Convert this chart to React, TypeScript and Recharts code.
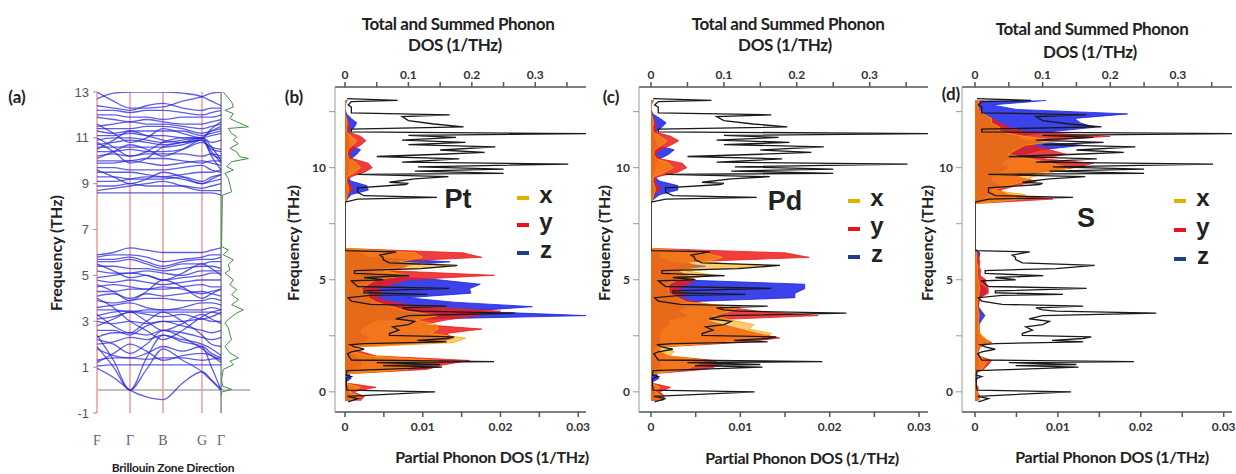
import React from 'react';
import { ComposedChart, LineChart, Line, Area, XAxis, YAxis, ReferenceLine } from 'recharts';

// ---- panel (a): band structure ----
const K_SAMPLES = [0, 0.5, 1, 1.5, 2, 2.59, 3.18, 3.47, 3.76];
const K_POINTS = [0, 1, 2, 3.18, 3.76];
const K_LABELS = ['F', 'Γ', 'B', 'G', 'Γ'];
const BAND_TICKS = [-1, 1, 3, 5, 7, 9, 11, 13];

const LOWER_BANDS = [
  [0.95, 0.55, 0.0, -0.3, -0.42, 0.3, 0.8, 0.45, 0.0],
  [1.9, 1.0, 0.0, 0.9, 1.8, 1.3, 0.8, 0.4, 0.0],
  [2.4, 1.3, 0.0, 1.4, 2.4, 2.1, 1.9, 1.0, 0.0],
  [1.05, 1.1, 1.1, 1.1, 1.1, 1.1, 1.1, 1.1, 1.1],
  [1.3, 1.4, 1.4, 1.35, 1.4, 1.4, 1.3, 1.35, 1.4],
  [1.8, 1.5, 1.4, 1.6, 1.9, 1.7, 1.9, 1.6, 1.4],
  [2.0, 2.1, 2.3, 2.2, 2.4, 2.2, 2.0, 1.8, 1.5],
  [2.3, 2.5, 2.5, 2.4, 2.6, 2.5, 2.3, 2.2, 2.3],
  [2.6, 2.6, 2.4, 2.8, 3.0, 2.8, 2.6, 2.5, 2.6],
  [3.0, 2.9, 3.0, 2.9, 3.0, 3.0, 3.1, 3.0, 3.0],
  [3.1, 3.2, 3.4, 3.3, 3.2, 3.3, 3.1, 3.2, 3.4],
  [3.25, 3.4, 3.45, 3.4, 3.4, 3.4, 3.4, 3.4, 3.3],
  [3.5, 3.5, 3.4, 3.5, 3.5, 3.5, 3.5, 3.6, 3.5],
  [3.6, 3.7, 3.8, 3.6, 3.5, 3.6, 3.8, 3.8, 3.7],
  [3.9, 3.8, 3.9, 4.0, 4.0, 3.9, 3.9, 4.0, 3.9],
  [4.1, 4.2, 4.0, 4.2, 4.1, 4.2, 4.3, 4.2, 4.1],
  [4.3, 4.3, 4.4, 4.4, 4.5, 4.4, 4.2, 4.3, 4.4],
  [4.5, 4.6, 4.5, 4.4, 4.4, 4.5, 4.6, 4.5, 4.5],
  [4.8, 4.7, 4.8, 4.7, 4.6, 4.7, 4.8, 4.8, 4.8],
  [4.9, 5.0, 5.1, 5.0, 4.8, 4.9, 5.0, 5.1, 5.1],
  [5.2, 5.1, 5.1, 5.2, 5.1, 5.0, 5.2, 5.2, 5.2],
  [5.4, 5.4, 5.3, 5.3, 5.2, 5.3, 5.4, 5.4, 5.3],
  [5.6, 5.6, 5.7, 5.5, 5.3, 5.5, 5.5, 5.6, 5.6],
  [5.7, 5.7, 5.8, 5.6, 5.4, 5.6, 5.7, 5.7, 5.8],
  [5.8, 5.9, 5.9, 5.8, 5.6, 5.7, 5.8, 5.9, 5.9],
  [5.9, 6.0, 6.2, 6.1, 6.0, 6.0, 6.0, 6.1, 6.2],
  [4.0, 3.6, 3.0, 2.6, 2.2, 2.6, 3.2, 3.4, 3.5],
  [3.3, 2.8, 2.5, 3.0, 3.4, 3.0, 2.4, 2.0, 1.9],
  [1.2, 1.6, 2.0, 1.7, 1.3, 1.5, 1.6, 1.5, 1.3],
  [2.2, 2.0, 1.6, 2.0, 2.6, 2.3, 1.8, 1.5, 1.2],
  [2.8, 3.1, 3.4, 3.0, 2.6, 2.9, 3.3, 3.1, 2.9],
  [4.6, 4.3, 3.9, 4.3, 4.8, 4.5, 4.0, 4.2, 4.4],
  [5.5, 5.2, 4.9, 5.0, 4.8, 5.1, 5.5, 5.3, 5.0],
];

const UPPER_BANDS = [
  [12.7, 12.95, 13.0, 13.0, 13.0, 12.95, 12.8, 12.6, 12.4],
  [13.0, 12.6, 12.3, 12.3, 12.35, 12.6, 12.8, 12.95, 13.0],
  [12.2, 12.2, 12.1, 12.2, 12.2, 12.1, 12.0, 12.1, 12.2],
  [12.0, 12.0, 11.9, 11.9, 11.8, 11.9, 11.9, 11.9, 12.0],
  [11.9, 11.8, 11.7, 11.8, 11.7, 11.6, 11.6, 11.7, 11.8],
  [11.5, 11.6, 11.7, 11.6, 11.6, 11.5, 11.4, 11.5, 11.6],
  [11.4, 11.4, 11.4, 11.5, 11.5, 11.4, 11.2, 11.3, 11.4],
  [11.3, 11.2, 11.3, 11.3, 11.3, 11.3, 11.1, 11.2, 11.3],
  [11.1, 11.1, 11.2, 11.1, 11.1, 11.0, 11.0, 11.1, 11.2],
  [10.9, 11.0, 11.0, 10.9, 10.8, 10.9, 11.0, 10.8, 10.9],
  [10.7, 10.8, 10.9, 10.8, 10.7, 10.8, 10.9, 10.5, 10.4],
  [10.6, 10.6, 10.6, 10.6, 10.6, 10.7, 10.9, 10.3, 10.1],
  [10.4, 10.4, 10.5, 10.4, 10.4, 10.5, 10.8, 10.6, 10.5],
  [10.2, 10.3, 10.2, 10.3, 10.3, 10.3, 10.2, 10.3, 10.2],
  [10.0, 10.0, 10.0, 10.1, 10.1, 10.0, 9.9, 10.0, 10.0],
  [9.9, 9.9, 10.0, 9.9, 9.8, 9.9, 10.0, 9.9, 9.8],
  [9.7, 9.7, 9.6, 9.6, 9.6, 9.7, 9.8, 9.6, 9.5],
  [9.5, 9.5, 9.5, 9.4, 9.3, 9.4, 9.5, 9.5, 9.6],
  [9.3, 9.3, 9.2, 9.2, 9.2, 9.3, 9.1, 9.3, 9.4],
  [9.1, 9.1, 9.2, 9.3, 9.3, 9.2, 9.0, 9.1, 9.2],
  [8.9, 8.9, 9.0, 8.9, 8.9, 8.9, 8.8, 8.9, 9.0],
  [8.7, 8.8, 8.9, 9.0, 9.1, 8.9, 8.7, 8.7, 8.7],
  [8.6, 8.6, 8.6, 8.6, 8.6, 8.6, 8.6, 8.6, 8.5],
  [11.0, 10.6, 10.2, 10.4, 10.8, 11.0, 11.0, 10.6, 10.0],
  [10.5, 10.9, 11.3, 11.1, 10.9, 10.8, 11.0, 11.4, 11.7],
  [12.4, 12.3, 12.2, 12.4, 12.5, 12.3, 12.2, 12.3, 12.3],
  [11.6, 11.2, 10.8, 11.0, 11.4, 11.2, 11.0, 11.3, 11.5],
  [10.1, 10.4, 10.7, 10.5, 10.2, 10.5, 10.9, 10.4, 9.9],
  [9.6, 9.3, 9.0, 9.2, 9.5, 9.3, 9.0, 9.2, 9.4],
  [10.8, 10.4, 9.9, 10.1, 10.6, 10.8, 11.0, 10.2, 9.6],
];

// small DOS curve drawn beside the band structure (relative units)
const SIDE_DOS_F = [-0.26, -0.09, 0.03, 0.17, 0.46, 0.9, 1.11, 1.26, 1.4, 1.62, 1.91, 2.2, 2.42, 2.71, 2.93, 3.14, 3.36, 3.5, 3.72, 3.94, 4.16, 4.38, 4.59, 4.81, 5.1, 5.24, 5.46, 5.68, 5.9, 6.11, 6.26, 8.5, 8.65, 8.94, 9.23, 9.45, 9.6, 9.74, 9.96, 10.1, 10.17, 10.39, 10.54, 10.75, 10.9, 11.05, 11.19, 11.41, 11.48, 11.7, 11.84, 12.06, 12.2, 12.35, 12.57, 13.0];
const SIDE_DOS_G = [0, 0.02, 0.38, 0.06, 0.02, 0.08, 0.44, 0.32, 0.62, 0.32, 0.14, 0.38, 0.32, 0.26, 0.14, 0.32, 0.56, 0.8, 0.38, 0.62, 0.38, 0.56, 0.32, 0.44, 0.14, 0.32, 0.26, 0.44, 0.08, 0.26, 0.02, 0.05, 0.38, 0.32, 0.26, 0.14, 0.44, 0.2, 0.38, 0.98, 0.68, 0.56, 0.32, 0.62, 0.44, 0.56, 0.38, 0.26, 0.98, 0.56, 0.32, 0.44, 0.14, 0.44, 0.38, 0.08];

// ---- panels (b)-(d): phonon DOS ----
const TOTAL_F = [-0.45, -0.3, -0.2, 0.0, 0.08, 0.3, 0.6, 0.68, 0.75, 0.95, 1.0, 1.1, 1.17, 1.22, 1.3, 1.35, 1.42, 1.7, 1.78, 1.9, 2.0, 2.1, 2.15, 2.23, 2.3, 2.38, 2.45, 2.52, 2.6, 2.75, 2.9, 3.0, 3.14, 3.26, 3.4, 3.51, 3.6, 3.66, 3.75, 3.82, 3.9, 4.05, 4.2, 4.3, 4.35, 4.42, 4.5, 4.62, 4.7, 4.95, 5.0, 5.1, 5.18, 5.28, 5.41, 5.5, 5.64, 5.75, 5.9, 6.0, 6.1, 6.24, 6.3,
  8.46, 8.6, 8.68, 8.75, 8.9, 9.1, 9.25, 9.3, 9.35, 9.5, 9.6, 9.7, 9.75, 9.85, 9.94, 10.04, 10.16, 10.25, 10.39, 10.5, 10.6, 10.68, 10.79, 10.93, 11.03, 11.13, 11.23, 11.35, 11.44, 11.52, 11.6, 11.72, 11.82, 11.95, 12.1, 12.28, 12.36, 12.45, 12.7, 12.8, 12.95, 13.0, 13.08];
const TOTAL_V = [0.005, 0.02, 0.004, 0.142, 0.003, 0.002, 0.002, 0.01, 0.002, 0.003, 0.06, 0.153, 0.06, 0.15, 0.05, 0.235, 0.01, 0.004, 0.01, 0.03, 0.015, 0.008, 0.03, 0.16, 0.114, 0.16, 0.172, 0.07, 0.07, 0.085, 0.075, 0.1, 0.11, 0.08, 0.1, 0.268, 0.12, 0.1, 0.09, 0.16, 0.04, 0.01, 0.005, 0.04, 0.13, 0.03, 0.03, 0.165, 0.02, 0.01, 0.06, 0.03, 0.101, 0.015, 0.015, 0.12, 0.177, 0.07, 0.06, 0.06, 0.055, 0.081, 0.0,
  0.0, 0.02, 0.145, 0.03, 0.02, 0.02, 0.095, 0.1, 0.07, 0.11, 0.163, 0.02, 0.25, 0.11, 0.25, 0.115, 0.352, 0.09, 0.18, 0.05, 0.15, 0.22, 0.15, 0.237, 0.1, 0.19, 0.09, 0.175, 0.1, 0.38, 0.01, 0.01, 0.187, 0.14, 0.1, 0.09, 0.165, 0.01, 0.01, 0.005, 0.01, 0.083, 0.003];

const FREQ = [-0.4, -0.2, 0, 0.2, 0.4, 0.6, 0.8, 1, 1.2, 1.4, 1.6, 1.8, 2, 2.2, 2.4, 2.6, 2.8, 3, 3.2, 3.4, 3.6, 3.8, 4, 4.2, 4.4, 4.6, 4.8, 5, 5.2, 5.4, 5.6, 5.8, 6, 6.2, 6.4, 6.6, 6.8, 7, 7.2, 7.4, 7.6, 7.8, 8, 8.2, 8.4, 8.6, 8.8, 9, 9.2, 9.4, 9.6, 9.8, 10, 10.2, 10.4, 10.6, 10.8, 11, 11.2, 11.4, 11.6, 11.8, 12, 12.2, 12.4, 12.6, 12.8, 13];

const PT_X = [.001, .002, .0005, .002, 0, 0, 0, .008, .009, .012, .003, .001, .002, .014, .0155, .011, .012, .0118, .009, .012, .008, .006, .004, .003, .003, .002, .003, .004, .008, .005, .0143, .007, .01, .009,
  0, 0, 0, 0, 0, 0, 0, 0, 0, 0, 0,
  .0002, .0003, .0005, .0004, .0002, .0003, .0012, .002, .0015, .0005, .0003, .0004, .001, .0015, .0008, .0002, .0002, .0003, .0002, 0, 0, 0, .0002];
const PT_Y = [.002, .0025, .001, .004, 0, 0, 0, .0105, .0126, .016, .004, .002, .001, .012, .014, .013, .0176, .010, .013, .017, .020, .010, .006, .004, .005, .004, .006, .008, .0192, .006, .008, .005, .0176, .0152,
  0, 0, 0, 0, 0, 0, 0, 0, 0, 0, 0,
  .0002, .0003, .001, .0008, .0003, .0008, .0025, .0035, .003, .001, .0005, .001, .002, .0027, .002, .0004, .0006, .0004, .0003, 0, 0, 0, .0002];
const PT_Z = [.0005, .0008, .0003, .0005, 0, .0008, .0005, .001, .002, .002, .001, .0005, .0005, .002, .003, .002, .002, .003, .004, .031, .016, .0241, .014, .008, .0162, .016, .0174, .012, .004, .003, .006, .0135, .003, .002,
  0, 0, 0, 0, 0, 0, 0, 0, 0, 0, 0,
  .0003, .0008, .003, .0028, .0008, .0003, .0003, .0005, .0004, .0008, .0015, .002, .0005, .0005, .0003, .0006, .0012, .0015, .0008, .0002, 0, 0, .0003];

const PD_X = [.001, .0013, .0005, .001, 0, 0, 0, .004, .005, .006, .002, .0026, .001, .008, .012, .0135, .011, .0115, .009, .007, .009, .01, .004, .003, .002, .002, .002, .003, .007, .004, .013, .006, .008, .006,
  0, 0, 0, 0, 0, 0, 0, 0, 0, 0, 0,
  .0002, .0003, .0005, .0004, .0002, .0003, .0015, .0025, .002, .0006, .0003, .0004, .0012, .0018, .001, .0002, .0002, .0003, .0002, 0, 0, 0, .0002];
const PD_Y = [.0013, .0015, .001, .0022, 0, 0, 0, .006, .008, .007, .002, .001, .001, .01, .0144, .012, .01, .008, .006, .0187, .012, .008, .005, .003, .004, .003, .004, .005, .004, .003, .005, .004, .0177, .015,
  0, 0, 0, 0, 0, 0, 0, 0, 0, 0, 0,
  .0002, .0003, .001, .0008, .0003, .0008, .003, .004, .0035, .001, .0005, .001, .0022, .0031, .0022, .0004, .0006, .0004, .0003, 0, 0, 0, .0002];
const PD_Z = [.0005, .0006, .0003, .0004, 0, .0009, .0006, .001, .001, .001, .0005, .0003, .0004, .001, .001, .001, .0012, .002, .002, .004, .003, .004, .003, .0161, .0161, .0172, .0172, .003, .002, .002, .0061, .002, .001, .001,
  0, 0, 0, 0, 0, 0, 0, 0, 0, 0, 0,
  .0003, .001, .003, .003, .001, .0003, .0003, .0005, .0004, .001, .002, .0026, .0005, .0005, .0003, .0006, .0012, .0017, .001, .0002, 0, 0, .0003];

const S_X = [.0003, .0005, .0002, .0003, 0, 0, 0, .0008, .0012, .0015, .0004, .0003, .0004, .0018, .0012, .0006, .0004, .0005, .0004, .0005, .0004, .0003, .0003, .0004, .0005, .0006, .0005, .0004, .0003, .0003, .0003, .0002, .0002, .0002,
  0, 0, 0, 0, 0, 0, 0, 0, 0, 0, 0,
  .006, .006, .002, .004, .006, .007, .0094, .0114, .009, .0066, .004, .005, .006, .0102, .006, .003, .003, .002, .002, .001, .0005, .0003, .0005];
const S_Y = [.0004, .0006, .0003, .0004, 0, 0, 0, .001, .0016, .002, .0005, .0004, .0006, .002, .001, .0006, .0005, .0005, .0004, .0006, .0005, .0004, .0005, .0006, .0016, .0016, .0013, .0013, .0006, .0007, .0005, .0006, .0004, .0003,
  0, 0, 0, 0, 0, 0, 0, 0, 0, 0, 0,
  .0094, .004, .003, .005, .0074, .005, .008, .012, .0143, .008, .011, .009, .007, .008, .0163, .006, .004, .003, .002, .001, .0005, .0005, .001];
const S_Z = [.0002, .0003, .0001, .0002, 0, .0003, .0002, .0003, .0004, .0004, .0002, .0002, .0003, .0004, .0003, .0003, .0004, .0005, .0008, .0012, .0008, .0004, .0004, .0005, .0013, .0014, .0005, .0004, .0004, .0004, .0003, .0004, .0005, .0006,
  0, 0, 0, 0, 0, 0, 0, 0, 0, 0, 0,
  .001, .0015, .002, .003, .002, .002, .003, .004, .003, .004, .006, .008, .013, .006, .005, .009, .0144, .0127, .012, .0184, .005, .002, .0086];

const TOP_TICKS = [0, 0.05, 0.1, 0.15, 0.2, 0.25, 0.3, 0.35];
const TOP_LABELS = ['0', '', '0.1', '', '0.2', '', '0.3', ''];
const BOTTOM_TICKS = [0, 0.005, 0.01, 0.015, 0.02, 0.025, 0.03];
const BOTTOM_LABELS = ['0', '', '0.01', '', '0.02', '', '0.03'];
const FREQ_TICKS = [0, 2.5, 5, 7.5, 10, 12.5];
const FREQ_LABELS = ['0', '', '5', '', '10', ''];

const ORANGE = '#f7a400';
const RED = '#ec1c1c';
const BLUE = '#1a22e6';

const bandRows = K_SAMPLES.map((k, j) => {
  const row: Record<string, number> = { k };
  [...LOWER_BANDS, ...UPPER_BANDS].forEach((b, i) => {
    row[`b${i}`] = b[j];
  });
  return row;
});
const BAND_COUNT = LOWER_BANDS.length + UPPER_BANDS.length;
const sideDosRows = SIDE_DOS_F.map((f, i) => ({ f, g: SIDE_DOS_G[i] }));
const totalRows = TOTAL_F.map((f, i) => ({ f, v: TOTAL_V[i] }));
const partialRows = (xs: number[], ys: number[], zs: number[]) =>
  FREQ.map((f, i) => ({ f, x: xs[i], y: ys[i], z: zs[i] }));

const tickStyle = { fontSize: 12, fontWeight: 700, fill: '#333', fontFamily: 'Lato' };

const Txt = ({ x, y, size, weight = 700, color = '#222', rotate = false, family = 'Lato', spacing = 0, children }: any) => (
  <div
    style={{
      position: 'absolute',
      left: x,
      top: y,
      transform: `translate(-50%, -50%)${rotate ? ' rotate(-90deg)' : ''}`,
      fontSize: size,
      fontWeight: weight,
      color,
      fontFamily: family,
      letterSpacing: spacing,
      whiteSpace: 'nowrap',
      lineHeight: 1,
    }}
  >
    {children}
  </div>
);

const LegendRow = ({ x, y, color, label }: any) => (
  <>
    <div style={{ position: 'absolute', left: x, top: y - 2, width: 12, height: 4, background: color }} />
    <Txt x={x + 29} y={y - 3} size={24} weight={700} family="Liberation Sans">{label}</Txt>
  </>
);

function DosPanel({ left, width, rightMargin, pad, rows }: any) {
  return (
    <div style={{ position: 'absolute', left, top: 0 }}>
      <ComposedChart
        layout="vertical"
        width={width}
        height={474}
        margin={{ top: 67, right: rightMargin, bottom: 37, left: 15 }}
      >
        <XAxis
          xAxisId="top"
          orientation="top"
          type="number"
          domain={[0, 0.38]}
          allowDataOverflow
          ticks={TOP_TICKS}
          interval={0}
          tickFormatter={(_v: number, i: number) => TOP_LABELS[i]}
          padding={{ left: pad, right: 0 }}
          height={20}
          tickSize={5}
          tickMargin={3}
          stroke="#555"
          strokeWidth={1.5}
          tick={tickStyle}
        />
        <XAxis
          xAxisId="bottom"
          orientation="bottom"
          type="number"
          domain={[0, 0.031]}
          allowDataOverflow
          ticks={BOTTOM_TICKS}
          interval={0}
          tickFormatter={(_v: number, i: number) => BOTTOM_LABELS[i]}
          padding={{ left: pad, right: 0 }}
          height={25}
          tickSize={5}
          tickMargin={5}
          stroke="#555"
          strokeWidth={1.5}
          tick={tickStyle}
        />
        <YAxis
          type="number"
          dataKey="f"
          reversed
          domain={[-0.9, 13.6]}
          allowDataOverflow
          ticks={FREQ_TICKS}
          interval={0}
          tickFormatter={(_v: number, i: number) => FREQ_LABELS[i]}
          width={30}
          tickSize={6}
          tickMargin={3}
          stroke="#999"
          tick={tickStyle}
        />
        <Area xAxisId="bottom" data={rows} dataKey="z" type="linear" stroke={BLUE} strokeWidth={0.8} fill={BLUE} fillOpacity={0.85} dot={false} activeDot={false} isAnimationActive={false} />
        <Area xAxisId="bottom" data={rows} dataKey="y" type="linear" stroke={RED} strokeWidth={0.8} fill={RED} fillOpacity={0.85} dot={false} activeDot={false} isAnimationActive={false} />
        <Area xAxisId="bottom" data={rows} dataKey="x" type="linear" stroke={ORANGE} strokeWidth={0.8} fill={ORANGE} fillOpacity={0.55} dot={false} activeDot={false} isAnimationActive={false} />
        <Line xAxisId="top" data={totalRows} dataKey="v" type="linear" stroke="#1a1a1a" strokeWidth={1.3} dot={false} activeDot={false} isAnimationActive={false} />
      </ComposedChart>
    </div>
  );
}

export default function App() {
  return (
    <div style={{ position: 'absolute', left: 0, top: 0, width: 1236, height: 474, background: '#fff', fontFamily: 'Lato', overflow: 'hidden' }}>
      {/* (a) band structure */}
      <div style={{ position: 'absolute', left: 0, top: 0 }}>
        <LineChart width={260} height={474} data={bandRows} margin={{ top: 92, right: 10, bottom: 36, left: 57 }}>
          <XAxis
            dataKey="k"
            type="number"
            domain={[0, 4.636]}
            allowDataOverflow
            ticks={K_POINTS}
            interval={0}
            tickFormatter={(_v: number, i: number) => K_LABELS[i]}
            axisLine={false}
            tickLine={false}
            height={25}
            tickMargin={16}
            tick={{ fontSize: 14, fill: '#666', fontFamily: 'Liberation Serif' }}
          />
          <XAxis xAxisId="dos" dataKey="g" type="number" domain={[-4.43, 1.036]} allowDataOverflow hide />
          <YAxis
            type="number"
            domain={[-1, 13]}
            allowDataOverflow
            ticks={BAND_TICKS}
            interval={0}
            width={40}
            axisLine={false}
            tickSize={4}
            tickMargin={4}
            stroke="#999"
            tick={{ fontSize: 13, fill: '#555', fontFamily: 'Liberation Sans' }}
          />
          <ReferenceLine y={0} stroke="#aaa" strokeWidth={1.5} />
          {K_POINTS.slice(0, 4).map((k, i) => (
            <ReferenceLine key={`kr-${i}`} x={k} stroke="#f09a9a" strokeWidth={1.5} />
          ))}
          <ReferenceLine x={K_POINTS[4]} stroke="#888" strokeWidth={1.5} />
          {Array.from({ length: BAND_COUNT }, (_, i) => (
            <Line
              key={`band-${i}`}
              dataKey={`b${i}`}
              type="monotone"
              stroke="#2828dc"
              strokeOpacity={0.75}
              strokeWidth={1.3}
              dot={false}
              activeDot={false}
              isAnimationActive={false}
            />
          ))}
          <Line xAxisId="dos" data={sideDosRows} dataKey="f" type="linear" stroke="#3f8f3f" strokeWidth={1} dot={false} activeDot={false} isAnimationActive={false} />
        </LineChart>
      </div>
      <Txt x={17} y={96} size={17}>(a)</Txt>
      <Txt x={56} y={253} size={16} rotate>Frequency (THz)</Txt>
      <Txt x={173} y={468} size={12} spacing={-0.2}>Brillouin Zone Direction</Txt>

      {/* (b) Pt */}
      <DosPanel left={290} width={310} rightMargin={14} pad={10} rows={partialRows(PT_X, PT_Y, PT_Z)} />
      <Txt x={458} y={23} size={17} spacing={-0.4}>Total and Summed Phonon</Txt>
      <Txt x={455} y={44} size={17} spacing={-0.4}>DOS (1/THz)</Txt>
      <Txt x={492} y={457} size={16} spacing={-0.3}>Partial Phonon DOS (1/THz)</Txt>
      <Txt x={293} y={243} size={16} rotate>Frequency (THz)</Txt>
      <Txt x={294} y={96} size={17}>(b)</Txt>
      <Txt x={458} y={199} size={27} family="Liberation Sans">Pt</Txt>
      <LegendRow x={517} y={198} color="#e2b100" label="x" />
      <LegendRow x={517} y={225} color="#e8141c" label="y" />
      <LegendRow x={517} y={253} color="#1f3c8c" label="z" />

      {/* (c) Pd */}
      <DosPanel left={594} width={348} rightMargin={14} pad={12} rows={partialRows(PD_X, PD_Y, PD_Z)} />
      <Txt x={788} y={23} size={17} spacing={-0.4}>Total and Summed Phonon</Txt>
      <Txt x={785} y={44} size={17} spacing={-0.4}>DOS (1/THz)</Txt>
      <Txt x={802} y={458} size={16} spacing={-0.3}>Partial Phonon DOS (1/THz)</Txt>
      <Txt x={604} y={243} size={16} rotate>Frequency (THz)</Txt>
      <Txt x={611} y={96} size={17}>(c)</Txt>
      <Txt x={785} y={201} size={27} family="Liberation Sans">Pd</Txt>
      <LegendRow x={848} y={201} color="#e2b100" label="x" />
      <LegendRow x={848} y={229} color="#e8141c" label="y" />
      <LegendRow x={848} y={257} color="#1f3c8c" label="z" />

      {/* (d) S */}
      <DosPanel left={917} width={319} rightMargin={4} pad={13} rows={partialRows(S_X, S_Y, S_Z)} />
      <Txt x={1092} y={28} size={17} spacing={-0.4}>Total and Summed Phonon</Txt>
      <Txt x={1090} y={51} size={17} spacing={-0.4}>DOS (1/THz)</Txt>
      <Txt x={1112} y={457} size={16} spacing={-0.3}>Partial Phonon DOS (1/THz)</Txt>
      <Txt x={927} y={243} size={16} rotate>Frequency (THz)</Txt>
      <Txt x={951} y={93} size={17}>(d)</Txt>
      <Txt x={1086} y={218} size={27} family="Liberation Sans">S</Txt>
      <LegendRow x={1174} y={201} color="#e2b100" label="x" />
      <LegendRow x={1174} y={230} color="#e8141c" label="y" />
      <LegendRow x={1174} y={259} color="#1f3c8c" label="z" />
    </div>
  );
}
